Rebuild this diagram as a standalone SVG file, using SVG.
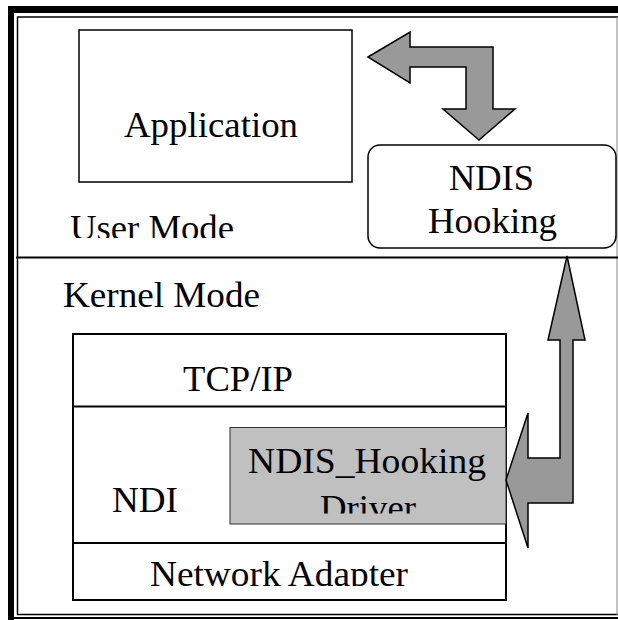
<svg xmlns="http://www.w3.org/2000/svg" width="618" height="620" viewBox="0 0 618 620">
<style>
  text { font-family: "Liberation Serif", "Times New Roman", serif; font-size: 35px; fill: #000; }
  .box { fill: #fff; stroke: #000; stroke-width: 1.5; }
  .stack { fill: none; stroke: #000; stroke-width: 2; }
  .arrow { fill: #999; stroke: #000; stroke-width: 1.5; stroke-linejoin: miter; }
</style>
<defs>
  <clipPath id="clipUser"><rect x="0" y="0" width="618" height="238"/></clipPath>
  <clipPath id="clipDriver"><rect x="0" y="0" width="618" height="513.5"/></clipPath>
  <clipPath id="clipAdapter"><rect x="0" y="0" width="618" height="586"/></clipPath>
</defs>
<rect x="0" y="0" width="618" height="620" fill="#fff"/>
<g id="frame">
  <rect x="8" y="6" width="6" height="614" fill="#000"/>
  <rect x="8" y="6" width="610" height="7" fill="#000"/>
  <line x1="8" y1="618" x2="618" y2="618" stroke="#000" stroke-width="2"/>
  <line x1="17.5" y1="17" x2="17.5" y2="615" stroke="#000" stroke-width="1.5"/>
  <line x1="17" y1="17" x2="618" y2="17" stroke="#000" stroke-width="1.5"/>
  <line x1="17" y1="614.5" x2="618" y2="614.5" stroke="#000" stroke-width="1.5"/>
  <line x1="617" y1="17" x2="617" y2="615" stroke="#888" stroke-width="1"/>
  <line x1="16" y1="257.5" x2="618" y2="257.5" stroke="#000" stroke-width="2"/>
  <text x="70" y="240" textLength="164" lengthAdjust="spacingAndGlyphs" clip-path="url(#clipUser)">User Mode</text>
  <text x="63" y="307" textLength="197" lengthAdjust="spacingAndGlyphs">Kernel Mode</text>
</g>
<g id="application">
  <rect class="box" x="79" y="30" width="273" height="152"/>
  <text x="124" y="137" textLength="174" lengthAdjust="spacingAndGlyphs">Application</text>
</g>
<g id="ndis-hooking">
  <rect class="box" x="368" y="145" width="248" height="103" rx="12" ry="12"/>
  <text x="449" y="190" textLength="85" lengthAdjust="spacingAndGlyphs">NDIS</text>
  <text x="428" y="233" textLength="129" lengthAdjust="spacingAndGlyphs">Hooking</text>
</g>
<g id="kernel-stack">
  <rect class="stack" x="73" y="334" width="433" height="266"/>
  <line class="stack" x1="73" y1="406.5" x2="506" y2="406.5"/>
  <line class="stack" x1="73" y1="543" x2="506" y2="543"/>
</g>
<g id="tcpip">
  <text x="183" y="391" textLength="110" lengthAdjust="spacingAndGlyphs">TCP/IP</text>
</g>
<g id="ndis">
  <text x="112" y="512" textLength="66" lengthAdjust="spacingAndGlyphs">NDI</text>
</g>
<g id="ndis-hooking-driver">
  <rect x="230" y="427.5" width="276" height="96.5" fill="#c0c0c0" stroke="#333" stroke-width="1"/>
  <text x="248" y="473" textLength="238" lengthAdjust="spacingAndGlyphs">NDIS_Hooking</text>
  <text x="320" y="520" textLength="96" lengthAdjust="spacingAndGlyphs" clip-path="url(#clipDriver)">Driver</text>
</g>
<g id="network-adapter">
  <text x="150" y="585.5" textLength="258" lengthAdjust="spacingAndGlyphs" clip-path="url(#clipAdapter)">Network Adapter</text>
</g>
<g id="connectors">
  <polygon class="arrow" points="368,57 410,32 410,47 493,47 493,109 515,109 479,140 443,109 466,109 466,67 410,67 410,83"/>
  <polygon class="arrow" points="567,256 585,340 573,340 573,503 528,503 528,548 506,480 528,413 528,458 560,458 560,340 548,340"/>
</g>
</svg>
